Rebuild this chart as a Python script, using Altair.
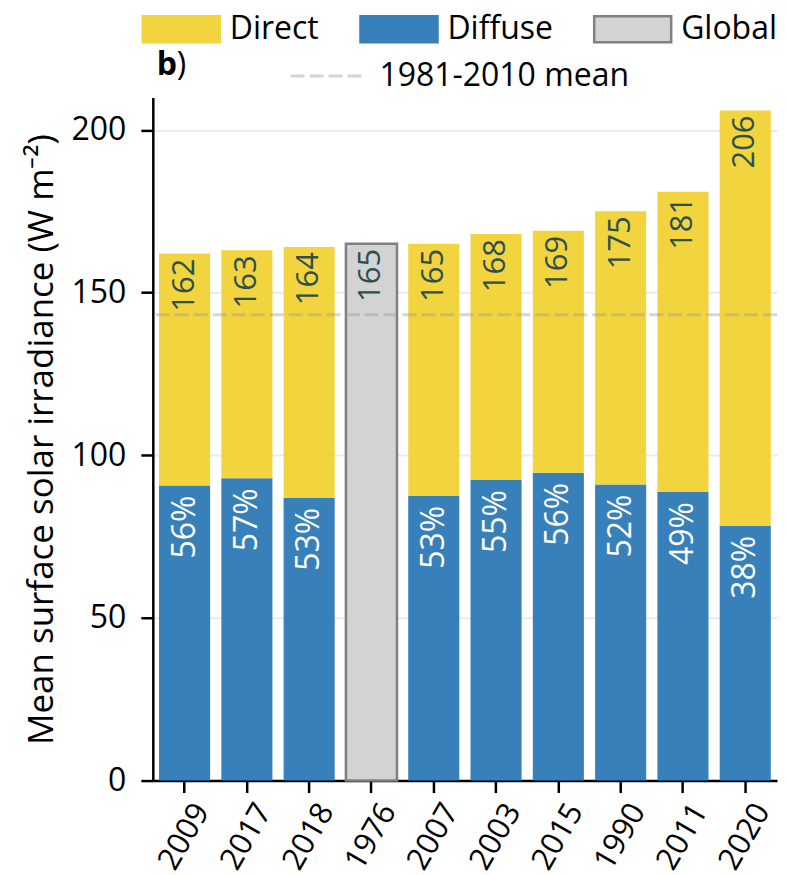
import altair as alt
import pandas as pd

years = ["2009", "2017", "2018", "1976", "2007", "2003", "2015", "1990", "2011", "2020"]
totals = [162, 163, 164, 165, 165, 168, 169, 175, 181, 206]
diffuse = [90.7, 92.9, 86.9, 0, 87.5, 92.4, 94.6, 91.0, 88.7, 78.3]
pct_labels = ["56%", "57%", "53%", "", "53%", "55%", "56%", "52%", "49%", "38%"]
global_years = ["1976"]
mean_1981_2010 = 143.2

components = ["Direct", "Diffuse", "Global"]
fill_colors = ["#f1d43e", "#3780b9", "#d3d3d3"]
stroke_colors = ["#f1d43e", "#3780b9", "#808080"]

FONT = "Open Sans"
FS = 32

rows = []
for yr, tot, dif in zip(years, totals, diffuse):
    if yr in global_years:
        rows.append({"year": yr, "component": "Global", "y0": 0, "y1": tot})
    else:
        rows.append({"year": yr, "component": "Diffuse", "y0": 0, "y1": dif})
        rows.append({"year": yr, "component": "Direct", "y0": dif, "y1": tot})
bars_df = pd.DataFrame(rows)

lab_df = pd.DataFrame({"year": years, "total": totals, "diffuse": diffuse, "pct": pct_labels})
pct_df = lab_df[~lab_df["year"].isin(global_years)]
mean_df = pd.DataFrame({"value": [mean_1981_2010], "label": ["1981-2010 mean"]})

x_enc = alt.X(
    "year:N",
    sort=years,
    scale=alt.Scale(paddingInner=0.18, paddingOuter=0.1),
    axis=alt.Axis(
        title=None, labelAngle=-60, labelAlign="center", labelBaseline="middle",
        labelPadding=44, tickSize=12, grid=False, labelFontSize=31,
    ),
)
y_scale = alt.Scale(domain=[0, 210], nice=False)

rect_path = "M-2.57,-0.87H2.57V0.87H-2.57Z"
comp_legend = alt.Legend(
    orient="none", legendX=12, legendY=-85, direction="horizontal", title=None,
    symbolType=rect_path, symbolSize=900, symbolStrokeWidth=2.5, symbolOpacity=1,
    labelFontSize=FS, labelFont=FONT, labelOffset=32, columnPadding=35, labelColor="black",
    labelLimit=400,
)

bars = alt.Chart(bars_df).mark_bar(opacity=1).encode(
    x=x_enc,
    y=alt.Y("y0:Q", scale=y_scale, axis=alt.Axis(
        values=[0, 50, 100, 150, 200], title="Mean surface solar irradiance (W m⁻²)",
        grid=True, tickSize=12, labelPadding=15, titlePadding=12, titleFontSize=35,
    )),
    y2="y1:Q",
    color=alt.Color("component:N", scale=alt.Scale(domain=components, range=fill_colors), legend=comp_legend),
    stroke=alt.Stroke("component:N", scale=alt.Scale(domain=components, range=stroke_colors), legend=comp_legend),
    strokeWidth=alt.condition("datum.component == 'Global'", alt.value(2.5), alt.value(0)),
)

total_text = alt.Chart(lab_df).mark_text(
    angle=270, align="right", baseline="middle", dx=-5, fontSize=31, font=FONT, color="#2f4f4f",
).encode(x=alt.X("year:N", sort=years), y=alt.Y("total:Q", scale=y_scale), text="total:Q")

pct_text = alt.Chart(pct_df).mark_text(
    angle=270, align="right", baseline="middle", dx=-10, fontSize=32, font=FONT, color="white",
).encode(x=alt.X("year:N", sort=years), y=alt.Y("diffuse:Q", scale=y_scale), text="pct:N")

mean_rule = alt.Chart(mean_df).mark_rule(color="#999999", opacity=0.4, strokeWidth=3).encode(
    y=alt.Y("value:Q", scale=y_scale),
    strokeDash=alt.StrokeDash("label:N", scale=alt.Scale(domain=["1981-2010 mean"], range=[[14, 5]]),
        legend=alt.Legend(
            orient="none", legendX=159, legendY=-38, title=None,
            symbolType="M-2.5,0H2.5", symbolSize=900, symbolStrokeWidth=3,
            symbolStrokeColor="#999999", symbolOpacity=0.4, symbolFillColor="transparent",
            labelFontSize=FS, labelFont=FONT, labelOffset=35, labelColor="black", labelLimit=400,
        )),
)

one = pd.DataFrame({"t": [0]})
panel_b = alt.Chart(one).mark_text(text="b", fontWeight="bold", fontSize=FS, font=FONT,
                                   align="left", baseline="alphabetic", color="black").encode(
    x=alt.value(4), y=alt.value(-22))
panel_paren = alt.Chart(one).mark_text(text=")", fontSize=FS, font=FONT,
                                       align="left", baseline="alphabetic", color="black").encode(
    x=alt.value(24), y=alt.value(-22))

chart = alt.layer(bars, total_text, pct_text, mean_rule, panel_b, panel_paren).properties(
    width=625, height=684, padding={"left": 16, "top": 4, "right": 0, "bottom": 0},
).configure_view(stroke=None).configure_axis(
    domainColor="black", domainWidth=2.5, tickColor="black", tickWidth=2.5,
    labelFont=FONT, labelFontSize=FS, labelColor="black",
    titleFont=FONT, titleFontSize=FS, titleColor="black", titleFontWeight="normal",
    gridColor="#ebebeb", gridWidth=2,
)

chart.save("out.html", embed_options={"renderer": "svg", "actions": False})
